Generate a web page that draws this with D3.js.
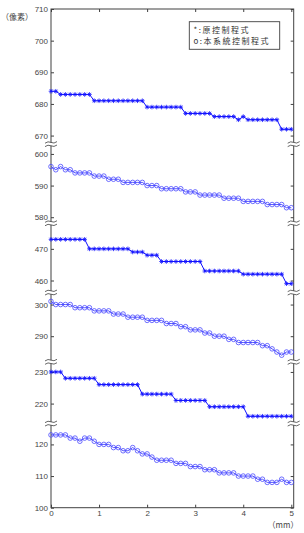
<!DOCTYPE html>
<html><head><meta charset="utf-8">
<script src="https://cdn.jsdelivr.net/npm/d3@7/dist/d3.min.js"></script>
<style>body{margin:0;background:#fff}svg{display:block}</style>
</head><body><svg id="c" width="304" height="533"></svg>
<script>
// x positions (mm)
const xValues = [0,0.1,0.2,0.3,0.4,0.5,0.6,0.7,0.8,0.9,1,1.1,1.2,1.3,1.4,1.5,1.6,1.7,1.8,1.9,2,2.1,2.2,2.3,2.4,2.5,2.6,2.7,2.8,2.9,3,3.1,3.2,3.3,3.4,3.5,3.6,3.7,3.8,3.9,4,4.1,4.2,4.3,4.4,4.5,4.6,4.7,4.8,4.9,5];
// series (pixel values); stars = original program, circles = this system
const star1 = [684,684,683,683,683,683,683,683,683,681,681,681,681,681,681,681,681,681,681,681,679,679,679,679,679,679,679,679,677,677,677,677,677,677,676,676,676,676,676,675,676,675,675,675,675,675,675,675,672,672,672];
const circ1 = [596,595,596,595,595,594,594,594,594,593,593,593,592,592,592,591,591,591,591,591,590,590,590,589,589,589,589,589,588,588,588,587,587,587,587,587,586,586,586,586,585,585,585,585,585,584,584,584,584,583,583];
const star2 = [473,473,473,473,473,473,473,473,470,470,470,470,470,470,470,470,470,469,469,469,468,468,468,466,466,466,466,466,466,466,466,466,463,463,463,463,463,463,463,463,462,462,462,462,462,462,462,462,462,459,459];
const circ2 = [301,300,300,300,300,299,299,299,299,298,298,298,298,297,297,297,296,296,296,296,295,295,295,295,294,294,294,293,293,292,292,292,291,291,290,290,290,289,289,288,288,288,288,288,287,287,286,285,284,285,285];
const star3 = [230,230,230,228,228,228,228,228,228,228,226,226,226,226,226,226,226,226,226,223,223,223,223,223,223,223,221,221,221,221,221,221,221,219,219,219,219,219,219,219,219,216,216,216,216,216,216,216,216,216,216];
const circ3 = [123,123,123,123,122,122,121,122,122,121,120,120,120,119,119,118,118,119,118,117,117,116,115,115,115,115,114,114,114,113,113,113,112,112,112,111,111,111,111,110,110,110,110,109,109,108,108,108,109,108,108];
const starSeries = [star1, star2, star3];
const circSeries = [circ1, circ2, circ3];
// broken y-axis segments and their tick labels
const ySegDomains = [[100,126.6],[213.7,233.2],[281.9,303.8],[456.2,478.1],[578.1,603.1],[667.3,710]];
const yTickLabels = [[100,110,120],[220,230],[290,300],[460,470],[580,590,600],[670,680,690,700,710]];
const xTickLabels = [0,1,2,3,4,5];
const legendLines = ["*:原控制程式","o:本系統控制程式"];
const yTitle = "（像素）";
const xTitle = "（mm）";

const svg = d3.select("#c");
const L=51, R=293.7, T=9, B=507.7;
const axisCol = "#404040", txtCol = "#444";
const x = d3.scaleLinear().domain([0,5.05]).range([L,R]);

// build piecewise y scale
const total = d3.sum(ySegDomains, d=>d[1]-d[0]);
const k = (B-T)/total;
let cur = B;
const segs = ySegDomains.map(d=>{
  const len=(d[1]-d[0])*k;
  const s = d3.scaleLinear().domain(d).range([cur, cur-len]);
  cur -= len; return s;
});
function y(v){ for(const s of segs){const d=s.domain(); if(v>=d[0]&&v<=d[1]) return s(v);} return null; }

// frame
svg.append("rect").attr("x",L).attr("y",T).attr("width",R-L).attr("height",B-T)
  .attr("fill","none").attr("stroke",axisCol).attr("stroke-width",1);

function styleAxis(g){
  g.select(".domain").remove();
  g.selectAll("line").attr("stroke",axisCol);
  g.selectAll("text").attr("fill",txtCol).style("font-family","'Liberation Sans',Arial,sans-serif").style("font-size","8px");
}
segs.forEach((s,i)=>{
  svg.append("g").attr("transform",`translate(${L},0)`)
    .call(d3.axisLeft(s).tickValues(yTickLabels[i]).tickSizeInner(-3).tickSizeOuter(0).tickPadding(3).tickFormat(d3.format("d")))
    .call(styleAxis);
  svg.append("g").attr("transform",`translate(${R},0)`)
    .call(d3.axisRight(s).tickValues(yTickLabels[i]).tickSizeInner(-3).tickSizeOuter(0).tickFormat(""))
    .call(styleAxis);
});
svg.append("g").attr("transform",`translate(0,${B})`)
  .call(d3.axisBottom(x).tickValues(xTickLabels).tickSizeInner(-3).tickSizeOuter(0).tickPadding(3).tickFormat(d3.format("d")))
  .call(styleAxis);
svg.append("g").attr("transform",`translate(0,${T})`)
  .call(d3.axisTop(x).tickValues(xTickLabels).tickSizeInner(-3).tickSizeOuter(0).tickFormat(""))
  .call(styleAxis);

// break marks
segs.slice(0,-1).forEach(s=>{
  const yb = s.range()[1];
  [L,R].forEach(ax=>{
    svg.append("rect").attr("x",ax-2).attr("y",yb-1.6).attr("width",4).attr("height",3.2).attr("fill","#fff");
    [-1.7,1.7].forEach(o=>{
      svg.append("path").attr("d",`M${ax-6},${yb+o+0.8} q3,-2.4 6,-0.8 t6,-0.8`)
        .attr("fill","none").attr("stroke",axisCol).attr("stroke-width",0.8);
    });
  });
});

// lines and markers
const line = d3.line().x((d,i)=>x(xValues[i])).y(d=>y(d));
const blue = "#1010ff";
const starPath = "M-2.3,0H2.3M0,-2.3V2.3M-1.6,-1.6L1.6,1.6M-1.6,1.6L1.6,-1.6";
starSeries.forEach(s=>{
  svg.append("path").datum(s).attr("d",line).attr("fill","none").attr("stroke",blue).attr("stroke-width",1);
  svg.append("g").selectAll("path").data(s).join("path")
    .attr("transform",(d,i)=>`translate(${x(xValues[i])},${y(d)})`)
    .attr("d",starPath).attr("stroke",blue).attr("stroke-width",0.8).attr("fill","none");
});
circSeries.forEach(s=>{
  svg.append("path").datum(s).attr("d",line).attr("fill","none").attr("stroke",blue).attr("stroke-width",0.9).attr("opacity",0.8);
  svg.append("g").selectAll("circle").data(s).join("circle")
    .attr("cx",(d,i)=>x(xValues[i])).attr("cy",d=>y(d)).attr("r",2.3)
    .attr("fill","none").attr("stroke","#4a4aff").attr("stroke-width",0.8);
});

// legend
svg.append("rect").attr("x",189.3).attr("y",21.7).attr("width",90.4).attr("height",27.6)
  .attr("fill","#fff").attr("stroke",axisCol).attr("stroke-width",0.9);
legendLines.forEach((t,i)=>{
  svg.append("text").attr("x",193.5).attr("y",32.6+i*11.7).text(t).attr("fill","#333")
    .style("font-family","'Noto Sans CJK TC','Noto Sans CJK SC',sans-serif").style("font-size","8px")
    .style("letter-spacing","1.5px");
});
// axis titles
svg.append("text").attr("x",17).attr("y",20).attr("text-anchor","middle").text(yTitle)
  .attr("fill",txtCol).style("font-family","'Noto Sans CJK SC',sans-serif").style("font-size","8px");
svg.append("text").attr("x",283).attr("y",528).attr("text-anchor","middle").text(xTitle)
  .attr("fill",txtCol).style("font-family","'Noto Sans CJK SC',sans-serif").style("font-size","8px");
</script></body></html>
